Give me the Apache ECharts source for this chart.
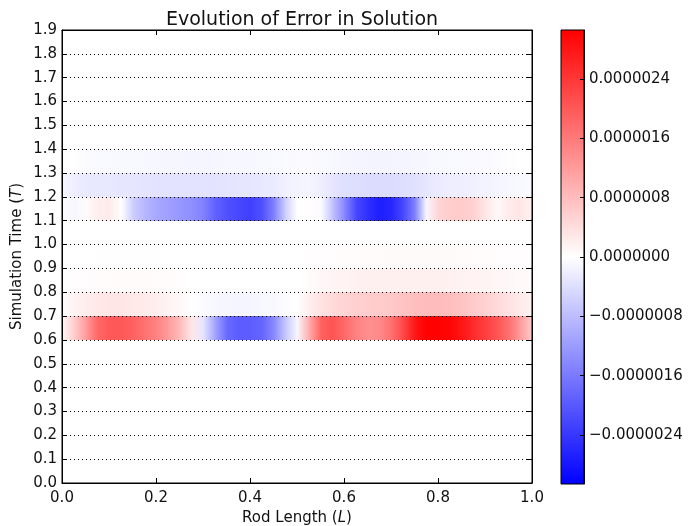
<!DOCTYPE html>
<html>
<head>
<meta charset="utf-8">
<title>Evolution of Error in Solution</title>
<script src="https://cdn.jsdelivr.net/npm/echarts@6/dist/echarts.min.js"></script>
<style>
  html, body { margin: 0; padding: 0; background: #fff; }
  #chart { width: 689px; height: 526px; }
</style>
</head>
<body>
<div id="chart"></div>
<script>
// Sample positions along the rod (L) where the error was recorded
const rodPositions = [
  0, 0.025, 0.05, 0.075, 0.1, 0.125, 0.15, 0.175, 0.2, 0.225,
  0.25, 0.275, 0.3, 0.325, 0.35, 0.375, 0.4, 0.425, 0.45, 0.475,
  0.5, 0.525, 0.55, 0.575, 0.6, 0.625, 0.65, 0.675, 0.7, 0.725,
  0.75, 0.775, 0.8, 0.825, 0.85, 0.875, 0.9, 0.925, 0.95, 0.975, 1.0
];

// Start of each time band (T); each band spans 0.1
const timeBands = [0.6, 0.7, 0.8, 0.9, 1.1, 1.2, 1.3];
const bandHeight = 0.1;

// Error values in units of 1e-6, one list per time band
const errorScale = 1e-6;
const errT060 = [0.1, 0.6, 1.2, 1.8, 2.0, 2.0, 1.9, 1.7, 1.5, 1.2, 0.8, 0.3, -0.3, -1.1, -1.8, -1.95, -1.95, -1.85, -1.4, -0.7, -0.1, 1.0, 1.9, 2.05, 1.8, 1.5, 1.35, 1.4, 1.7, 2.2, 2.8, 3.05, 3.05, 3.0, 2.8, 2.55, 2.3, 2.05, 1.7, 1.2, 0.6];
const errT070 = [0.05, 0.15, 0.22, 0.28, 0.3, 0.3, 0.28, 0.25, 0.2, 0.15, 0.08, 0.0, -0.05, -0.1, -0.12, -0.12, -0.12, -0.1, -0.08, -0.04, 0.0, 0.2, 0.35, 0.45, 0.52, 0.58, 0.6, 0.62, 0.65, 0.72, 0.78, 0.8, 0.8, 0.78, 0.72, 0.62, 0.55, 0.45, 0.35, 0.25, 0.15];
const errT080 = [0.0, 0.02, 0.03, 0.04, 0.05, 0.05, 0.05, 0.05, 0.05, 0.04, 0.02, 0, 0, 0, 0, 0, 0, 0, 0, 0, 0, 0.05, 0.1, 0.13, 0.15, 0.17, 0.18, 0.18, 0.18, 0.18, 0.18, 0.18, 0.18, 0.17, 0.16, 0.15, 0.13, 0.11, 0.09, 0.07, 0.05];
const errT090 = [0, 0, 0, 0.01, 0.01, 0.01, 0.01, 0.01, 0.01, 0, 0, 0, 0, 0, 0, 0, 0, 0, 0, 0, 0, 0.01, 0.02, 0.03, 0.04, 0.05, 0.05, 0.05, 0.06, 0.06, 0.06, 0.06, 0.06, 0.06, 0.05, 0.05, 0.04, 0.03, 0.02, 0.02, 0.01];
const errT110 = [-0.05, -0.1, 0.05, 0.2, 0.25, 0.0, -0.6, -0.85, -1.05, -1.15, -1.25, -1.35, -1.5, -1.9, -2.1, -2.2, -2.3, -2.1, -1.5, -0.6, 0.0, 0.02, -0.05, -0.7, -1.4, -2.2, -2.5, -2.7, -2.6, -2.2, -1.5, -0.1, 0.5, 0.6, 0.62, 0.55, 0.3, 0.08, 0.25, 0.3, 0.15];
const errT120 = [-0.1, -0.2, -0.26, -0.28, -0.28, -0.3, -0.3, -0.32, -0.33, -0.34, -0.34, -0.34, -0.34, -0.33, -0.32, -0.3, -0.3, -0.28, -0.24, -0.18, -0.13, -0.12, -0.2, -0.3, -0.38, -0.4, -0.42, -0.42, -0.42, -0.4, -0.36, -0.3, -0.24, -0.2, -0.2, -0.18, -0.16, -0.12, -0.1, -0.08, -0.06];
const errT130 = [0, 0, -0.05, -0.07, -0.08, -0.08, -0.09, -0.1, -0.1, -0.11, -0.12, -0.12, -0.12, -0.11, -0.1, -0.1, -0.1, -0.09, -0.08, -0.07, -0.06, -0.06, -0.07, -0.09, -0.11, -0.12, -0.13, -0.13, -0.13, -0.12, -0.11, -0.1, -0.08, -0.08, -0.07, -0.07, -0.06, -0.04, -0.02, 0, 0];
const bandErrors = [errT060, errT070, errT080, errT090, errT110, errT120, errT130];

// Colour scale limit and colour-bar tick values
const colorLimit = 3.06e-6;
const colorbarTicks = [-2.4e-6, -1.6e-6, -0.8e-6, 0, 0.8e-6, 1.6e-6, 2.4e-6];

// Diverging blue-white-red colour map
function bwr(v) {
  let r = Math.max(-1, Math.min(1, v / colorLimit));
  let R, G, B;
  if (r < 0) {
    const t = 1 + r;
    R = 255 * t; G = 255 * t; B = 255;
  } else {
    R = 255; G = 255 * (1 - r); B = 255 * (1 - r);
  }
  return 'rgb(' + Math.round(R) + ',' + Math.round(G) + ',' + Math.round(B) + ')';
}

// One cell per neighbouring pair of rod positions in every band
const cells = [];
timeBands.forEach(function (t0, b) {
  const vals = bandErrors[b];
  for (let i = 0; i < rodPositions.length - 1; i++) {
    cells.push([rodPositions[i], rodPositions[i + 1], t0, t0 + bandHeight,
                vals[i] * errorScale, vals[i + 1] * errorScale]);
  }
});

const font = 'DejaVu Sans, Liberation Sans, sans-serif';
const txt = { color: '#111', fontFamily: font, fontSize: 15 };
const nameTxt = {
  color: '#111', fontFamily: font, fontSize: 15,
  rich: { it: { fontStyle: 'italic', fontFamily: font, fontSize: 15, color: '#111' } }
};

const chart = echarts.init(document.getElementById('chart'), null, { renderer: 'canvas' });

const option = {
  animation: false,
  backgroundColor: '#fff',
  title: {
    text: 'Evolution of Error in Solution',
    left: 297,
    top: 6,
    textAlign: 'center',
    textStyle: { fontFamily: font, fontSize: 19, fontWeight: 'normal', color: '#111' }
  },
  grid: [
    { left: 62, top: 30, width: 470, height: 453, containLabel: false, outerBoundsMode: 'none',
      show: true, borderColor: '#000', borderWidth: 1, backgroundColor: 'transparent', z: 5 },
    { left: 561, top: 30, width: 23, height: 454, containLabel: false, outerBoundsMode: 'none',
      show: true, borderColor: '#000', borderWidth: 1, backgroundColor: 'transparent', z: 5 }
  ],
  xAxis: [
    {
      gridIndex: 0, type: 'value', min: 0, max: 1, interval: 0.2, z: 10,
      axisLine: { show: true, onZero: false, lineStyle: { color: '#000', width: 1 } },
      axisTick: { show: true, inside: true, length: 5, lineStyle: { color: '#000' } },
      axisLabel: Object.assign({ margin: 8, formatter: function (v) { return v.toFixed(1); } }, txt),
      splitLine: { show: false },
      name: 'Rod Length ({it|L})',
      nameLocation: 'middle',
      nameGap: 28,
      nameTextStyle: nameTxt
    },
    {
      gridIndex: 0, type: 'value', min: 0, max: 1, interval: 0.2, position: 'top', z: 10,
      axisLine: { show: true, onZero: false, lineStyle: { color: '#000', width: 1 } },
      axisTick: { show: true, inside: true, length: 5, lineStyle: { color: '#000' } },
      axisLabel: { show: false },
      splitLine: { show: false }
    },
    {
      gridIndex: 1, type: 'value', min: 0, max: 1, show: false
    }
  ],
  yAxis: [
    {
      gridIndex: 0, type: 'value', min: 0, max: 1.9, interval: 0.1, z: 10,
      axisLine: { show: true, onZero: false, lineStyle: { color: '#000', width: 1 } },
      axisTick: { show: true, inside: true, length: 5, lineStyle: { color: '#000' } },
      axisLabel: Object.assign({ margin: 5, formatter: function (v) { return v.toFixed(1); } }, txt),
      splitLine: { show: true, lineStyle: { color: '#000', width: 1, type: [1, 3] } },
      name: 'Simulation Time ({it|T})',
      nameLocation: 'middle',
      nameGap: 37,
      nameMoveOverlap: false,
      nameRotate: 90,
      nameTextStyle: nameTxt
    },
    {
      gridIndex: 0, type: 'value', min: 0, max: 1.9, interval: 0.1, position: 'right', z: 10,
      axisLine: { show: true, onZero: false, lineStyle: { color: '#000', width: 1 } },
      axisTick: { show: true, inside: true, length: 5, lineStyle: { color: '#000' } },
      axisLabel: { show: false },
      splitLine: { show: false }
    },
    {
      gridIndex: 1, type: 'value', min: -colorLimit, max: colorLimit, position: 'right', z: 10,
      axisLine: { show: true, onZero: false, lineStyle: { color: '#000', width: 1 } },
      axisTick: { show: true, inside: true, length: 4, customValues: colorbarTicks, lineStyle: { color: '#000' } },
      axisLabel: Object.assign({
        margin: 5,
        customValues: colorbarTicks,
        formatter: function (v) { return v.toFixed(7).replace('-', '\u2212'); }
      }, txt),
      splitLine: { show: false }
    }
  ],
  series: [
    {
      // Error field: each cell blends horizontally between its two samples
      type: 'custom',
      xAxisIndex: 0,
      yAxisIndex: 0,
      z: 2,
      encode: { x: [0, 1], y: [2, 3] },
      data: cells,
      renderItem: function (params, api) {
        const pA = api.coord([api.value(0), api.value(3)]);
        const pB = api.coord([api.value(1), api.value(2)]);
        const x = Math.round(pA[0]);
        const y = Math.round(pA[1]);
        const w = Math.round(pB[0]) - x;
        const h = Math.round(pB[1]) - y;
        return {
          type: 'rect',
          shape: { x: x, y: y, width: w + 0.5, height: h },
          style: {
            fill: new echarts.graphic.LinearGradient(0, 0, 1, 0, [
              { offset: 0, color: bwr(api.value(4)) },
              { offset: 1, color: bwr(api.value(5)) }
            ]),
            stroke: null
          }
        };
      }
    },
    {
      // Colour bar fill
      type: 'custom',
      xAxisIndex: 2,
      yAxisIndex: 2,
      z: 2,
      encode: { x: [0, 1], y: [2, 3] },
      data: [[0, 1, -colorLimit, colorLimit]],
      renderItem: function (params, api) {
        const pA = api.coord([api.value(0), api.value(3)]);
        const pB = api.coord([api.value(1), api.value(2)]);
        return {
          type: 'rect',
          shape: { x: pA[0], y: pA[1], width: pB[0] - pA[0], height: pB[1] - pA[1] },
          style: {
            fill: new echarts.graphic.LinearGradient(0, 0, 0, 1, [
              { offset: 0, color: bwr(colorLimit) },
              { offset: 0.5, color: bwr(0) },
              { offset: 1, color: bwr(-colorLimit) }
            ]),
            stroke: null
          }
        };
      }
    }
  ]
};

chart.setOption(option);
</script>
</body>
</html>
